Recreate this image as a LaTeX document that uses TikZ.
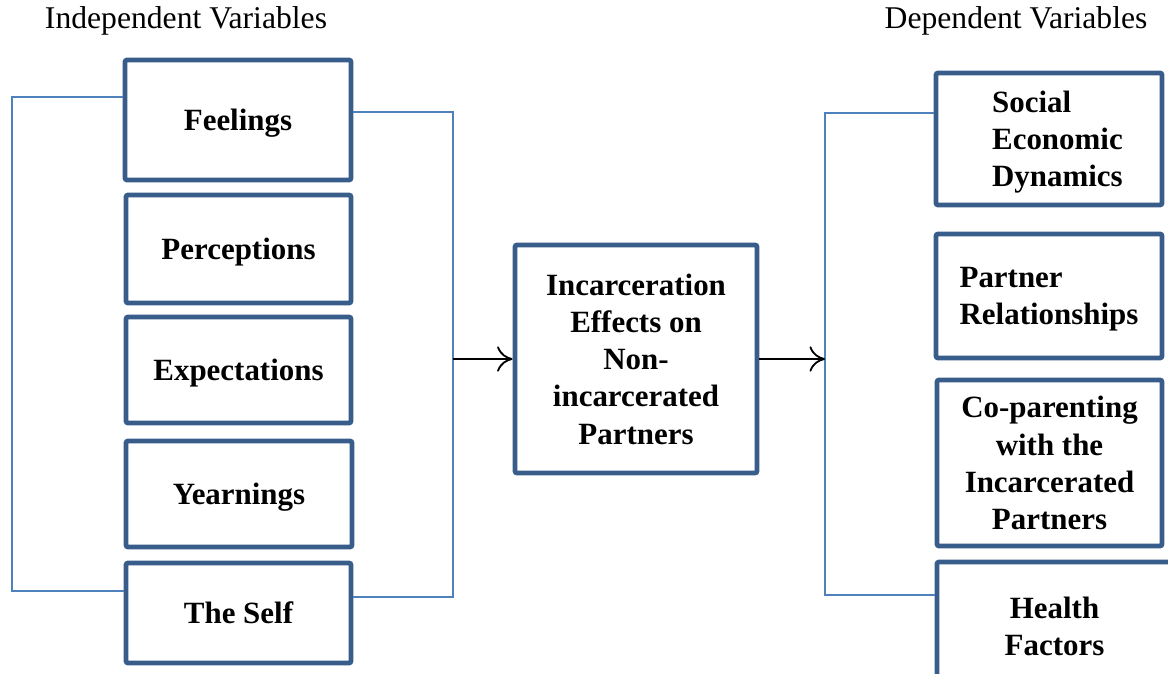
\documentclass[tikz,border=0pt]{standalone}
\usepackage{fontspec}
\setmainfont{Liberation Serif}
\usetikzlibrary{arrows.meta}
\definecolor{boxblue}{RGB}{56,93,138}
\definecolor{linkblue}{RGB}{79,129,189}

\begin{document}
\begin{tikzpicture}
  [x=0.025cm,y=-0.025cm,
   every node/.style={font=\fontsize{22.5}{26.5}\selectfont},
   varbox/.style={draw=boxblue,line width=3.4pt,rounded corners=1.5pt,fill=white,
     align=center,font=\fontsize{22}{26.5}\selectfont\bfseries,inner sep=2pt,text depth=0pt},
   link/.style={draw=linkblue,line width=1.1pt},
   flow/.style={black,line width=1.3pt,-{To[length=11pt,width=18pt]}}]
  \clip (0,0) rectangle (1168,674);
  \useasboundingbox (0,0) rectangle (1168,674);

  \node (indep) at (186,21) {Independent Variables};
  \node (dep) at (1016,21) {Dependent Variables};

  \node[varbox,minimum width=5.65cm,minimum height=3.0cm] (feel) at (238,120) {Feelings};
  \node[varbox,minimum width=5.625cm,minimum height=2.7cm] (perc) at (238.5,249) {Perceptions};
  \node[varbox,minimum width=5.625cm,minimum height=2.65cm] (expt) at (238.5,370) {Expectations};
  \node[varbox,minimum width=5.65cm,minimum height=2.65cm] (yearn) at (239,494) {Yearnings};
  \node[varbox,minimum width=5.625cm,minimum height=2.5cm] (self) at (238.5,613) {The Self};

  \node[varbox,minimum width=6.05cm,minimum height=5.7cm] (mid) at (636,359)
    {Incarceration\\Effects on\\Non-\\incarcerated\\Partners};

  \node[varbox,align=left,minimum width=5.65cm,minimum height=3.3cm] (soc) at (1049,139)
    {\hspace*{12pt}Social\\\hspace*{12pt}Economic\\\hspace*{12pt}Dynamics};
  \node[varbox,align=left,minimum width=5.65cm,minimum height=3.1cm] (part) at (1049,296)
    {Partner\\Relationships};
  \node[varbox,minimum width=5.625cm,minimum height=4.15cm] (copar) at (1049.5,463)
    {Co-parenting\\with the\\Incarcerated\\Partners};
  \node[varbox,minimum width=5.875cm,minimum height=3.2cm] (hlth) at (1054.5,626)
    {Health\\Factors};

  \coordinate (lt) at (12,97);
  \coordinate (lb) at (12,591);
  \coordinate (rt) at (453,112);
  \coordinate (rb) at (453,597);
  \coordinate (dt) at (825,113);
  \coordinate (db) at (825,595);

  \draw[link] (feel.west |- lt) -- (lt) -- (lb) -- (self.west |- lb);
  \draw[link] (feel.east |- rt) -- (rt) -- (rb) -- (self.east |- rb);
  \draw[link] (soc.west |- dt) -- (dt) -- (db) -- (hlth.west |- db);

  \draw[flow] (mid.west -| rt) -- (mid.west);
  \draw[flow] (mid.east) -- (mid.east -| dt);
\end{tikzpicture}
\end{document}
